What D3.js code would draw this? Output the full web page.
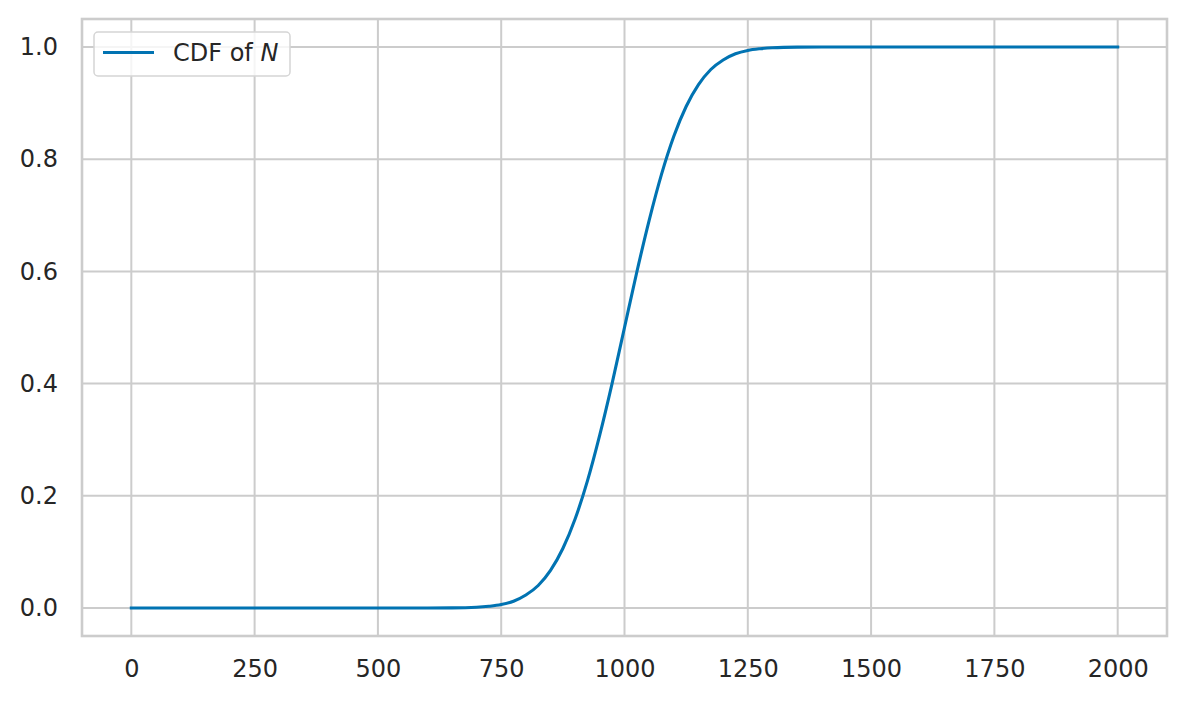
<!DOCTYPE html>
<html>
<head>
<meta charset="utf-8">
<script src="https://cdn.jsdelivr.net/npm/d3@7"></script>
<style>
  html, body { margin: 0; padding: 0; background: #fff; }
  svg { display: block; }
  text { font-family: "DejaVu Sans", sans-serif; fill: #262626; }
</style>
</head>
<body>
<svg id="chart" width="1186" height="703"></svg>
<script>
// Data
const nValues = [0, 500, 600, 650, 700, 725, 750, 775, 800, 825, 850, 875, 900, 925, 950, 975, 1000,
                 1025, 1050, 1075, 1100, 1125, 1150, 1175, 1200, 1225, 1250, 1275, 1300, 1350, 1400, 1500, 2000];
const cdfValues = [0, 0, 0.00003, 0.0002, 0.0013, 0.003, 0.006, 0.012, 0.023, 0.040, 0.067, 0.106, 0.159, 0.227, 0.309, 0.401, 0.5,
                   0.599, 0.691, 0.773, 0.841, 0.894, 0.933, 0.960, 0.977, 0.988, 0.994, 0.997, 0.9987, 0.9998, 1, 1, 1];
const xTicks = [0, 250, 500, 750, 1000, 1250, 1500, 1750, 2000];
const yTicks = [0.0, 0.2, 0.4, 0.6, 0.8, 1.0];
const seriesLabel = "CDF of ";
const seriesVar = "N";

const W = 1186, H = 703;
const m = { left: 82, right: 1167, top: 19, bottom: 636 };
const svg = d3.select("#chart");
const fs = 24;

const x = d3.scaleLinear().domain([-100, 2100]).range([m.left, m.right]);
const y = d3.scaleLinear().domain([-0.05, 1.05]).range([m.bottom, m.top]);

const grid = "#cccccc";

// grid lines
svg.append("g").selectAll("line").data(xTicks).join("line")
  .attr("x1", d => x(d)).attr("x2", d => x(d))
  .attr("y1", m.top).attr("y2", m.bottom)
  .attr("stroke", grid).attr("stroke-width", 2);
svg.append("g").selectAll("line").data(yTicks).join("line")
  .attr("x1", m.left).attr("x2", m.right)
  .attr("y1", d => y(d)).attr("y2", d => y(d))
  .attr("stroke", grid).attr("stroke-width", 2);

// axes (labels only)
const xAxis = svg.append("g").attr("transform", `translate(0,${m.bottom})`)
  .call(d3.axisBottom(x).tickValues(xTicks).tickSize(0).tickPadding(24).tickFormat(d3.format("d")));
const yAxis = svg.append("g").attr("transform", `translate(${m.left},0)`)
  .call(d3.axisLeft(y).tickValues(yTicks).tickSize(0).tickPadding(24).tickFormat(d3.format(".1f")));
[xAxis, yAxis].forEach(g => {
  g.select(".domain").remove();
  g.selectAll("text").attr("font-size", fs).attr("fill", "#262626")
    .style("font-family", "'DejaVu Sans', sans-serif");
});

// spines
svg.append("rect")
  .attr("x", m.left).attr("y", m.top)
  .attr("width", m.right - m.left).attr("height", m.bottom - m.top)
  .attr("fill", "none").attr("stroke", grid).attr("stroke-width", 2.6);

// line
const data = nValues.map((v, i) => ({ n: v, c: cdfValues[i] }));
const line = d3.line().x(d => x(d.n)).y(d => y(d.c)).curve(d3.curveMonotoneX);
svg.append("path").datum(data)
  .attr("d", line)
  .attr("fill", "none").attr("stroke", "#0173b2").attr("stroke-width", 3.1)
  .attr("stroke-linejoin", "round").attr("stroke-linecap", "square");

// legend
const lg = svg.append("g");
lg.append("rect")
  .attr("x", 94).attr("y", 32).attr("width", 196).attr("height", 44)
  .attr("rx", 4).attr("fill", "rgba(255,255,255,0.8)")
  .attr("stroke", "#d5d5d5").attr("stroke-width", 1.5);
lg.append("line")
  .attr("x1", 103).attr("x2", 154).attr("y1", 52.5).attr("y2", 52.5)
  .attr("stroke", "#0173b2").attr("stroke-width", 3.1);
const t = lg.append("text").attr("x", 173).attr("y", 61).attr("font-size", fs);
t.append("tspan").text(seriesLabel);
t.append("tspan").attr("font-style", "italic").text(seriesVar);
</script>
</body>
</html>
